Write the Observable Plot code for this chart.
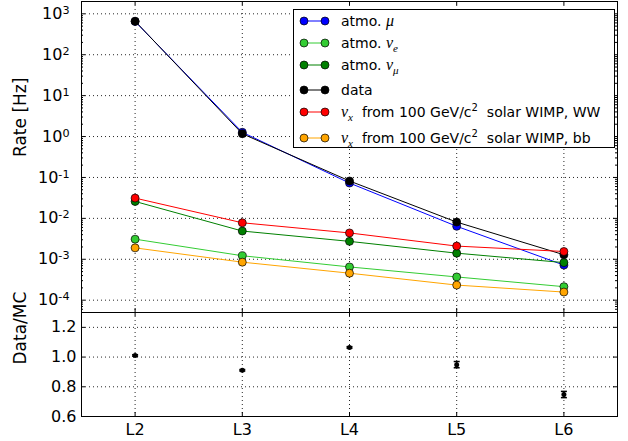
<!DOCTYPE html>
<html>
<head>
<meta charset="utf-8">
<script src="https://cdn.jsdelivr.net/npm/d3@7"></script>
<script src="https://cdn.jsdelivr.net/npm/@observablehq/plot@0.6"></script>
<style>
  body { margin: 0; background: #fff; }
  #chart { position: relative; width: 628px; height: 441px; font-family: "DejaVu Sans", sans-serif; color: #000; }
  #chart svg { display: block; }
  .legendbox { position: absolute; left: 293px; top: 9px; width: 322px; height: 139px; border: 1px solid #000; background: #fff; box-sizing: border-box; }
  .lrow { position: absolute; left: 299px; height: 20px; display: flex; align-items: center; font-size: 14px; white-space: nowrap; line-height: 20px; }
  .lrow > span { margin-left: 10px; }
  .m { font-family: "Liberation Serif", "DejaVu Serif", serif; font-style: italic; font-size: 16px; }
  .sb { font-family: "Liberation Serif", "DejaVu Serif", serif; font-style: italic; font-size: 11px; vertical-align: -4px; line-height: 0; }
  .sp { font-size: 10px; vertical-align: 6px; line-height: 0; }
</style>
</head>
<body>
<div id="chart"></div>
<script>
// ---- data ----
const levels = ["L2", "L3", "L4", "L5", "L6"];
const atmoMu   = [650, 1.27, 0.073, 0.0064, 0.00072];
const atmoNuE  = [0.0031, 0.00122, 0.00065, 0.00037, 0.000214];
const atmoNuMu = [0.0259, 0.0049, 0.00274, 0.00141, 0.00083];
const dataRate = [660, 1.17, 0.082, 0.0081, 0.00129];
const wimpWW   = [0.0313, 0.0078, 0.0044, 0.0021, 0.00155];
const wimpBB   = [0.0019, 0.00085, 0.000457, 0.000234, 0.000158];
const seriesValues = [atmoMu, atmoNuE, atmoNuMu, dataRate, wimpWW, wimpBB];
const seriesColors = ["#0000ff", "#33cc33", "#008000", "#000000", "#ff0000", "#ffa500"];
const seriesLabels = [
  'atmo. <span class="m">μ</span>',
  'atmo. <span class="m">ν</span><span class="sb">e</span>',
  'atmo. <span class="m">ν</span><span class="sb">μ</span>',
  'data',
  '<span class="m">ν</span><span class="sb">x</span>&nbsp; from 100 GeV/c<span class="sp">2</span>&nbsp; solar WIMP, WW',
  '<span class="m">ν</span><span class="sb">x</span>&nbsp; from 100 GeV/c<span class="sp">2</span>&nbsp; solar WIMP, bb'
];
const ratio    = [1.011, 0.911, 1.065, 0.949, 0.748];
const ratioErr = [0.005, 0.005, 0.005, 0.021, 0.021];
const rateTicks  = [1e-4, 1e-3, 1e-2, 1e-1, 1e0, 1e1, 1e2, 1e3];
const ratioTicks = [0.6, 0.8, 1.0, 1.2];

// ---- layout ----
const W = 628, ML = 81, MR = 11;
const FW = W - ML - MR;
const idx = levels.map((_, i) => i);
const minorTicks = [];
for (let k = -5; k <= 3; k++) for (let m = 2; m <= 9; m++) {
  const v = m * Math.pow(10, k);
  if (v >= 5e-5 && v <= 2e3) minorTicks.push(v);
}
const font = { fontFamily: "DejaVu Sans", fontSize: "16px", color: "#000", background: "transparent", overflow: "visible" };
const grid = { stroke: "#000", strokeOpacity: 0.85, strokeDasharray: "1,3", strokeWidth: 1 };
const ns = "http://www.w3.org/2000/svg";

// ---- upper panel ----
const H1 = 312, MT1 = 1, MB1 = 0;
const FH1 = H1 - MT1 - MB1;
const seriesMarks = [];
seriesValues.forEach((vals, s) => {
  seriesMarks.push(Plot.line(idx, { x: i => i, y: i => vals[i], stroke: seriesColors[s], strokeWidth: 1 }));
  seriesMarks.push(Plot.dot(idx, { x: i => i, y: i => vals[i], r: 4, fill: seriesColors[s], stroke: "#000", strokeWidth: 0.7 }));
});
const upper = Plot.plot({
  width: W, height: H1, marginLeft: ML, marginRight: MR, marginTop: MT1, marginBottom: MB1,
  style: font,
  x: { type: "linear", domain: [-0.5, 4.5], axis: null },
  y: { type: "log", domain: [5e-5, 2e3] },
  marks: [
    Plot.gridX({ ticks: idx, ...grid }),
    Plot.gridY({ ticks: rateTicks, ...grid }),
    ...seriesMarks,
    Plot.tickY(rateTicks, { y: d => d, insetRight: FW - 4, stroke: "#000" }),
    Plot.tickY(rateTicks, { y: d => d, insetLeft: FW - 4, stroke: "#000" }),
    Plot.tickY(minorTicks, { y: d => d, insetRight: FW - 2, stroke: "#000" }),
    Plot.tickY(minorTicks, { y: d => d, insetLeft: FW - 2, stroke: "#000" }),
    Plot.tickX(idx, { x: d => d, insetBottom: FH1 - 4, stroke: "#000" }),
    Plot.tickX(idx, { x: d => d, insetTop: FH1 - 4, stroke: "#000" }),
    Plot.frame({ stroke: "#000", strokeWidth: 1 }),
    Plot.axisY({ ticks: rateTicks, tickSize: 0, tickPadding: 12, label: null,
      tickFormat: d => "10^" + Math.round(Math.log10(d)) }),
    Plot.text(["Rate [Hz]"], { text: d => d, frameAnchor: "left", dx: -61, rotate: -90, fontSize: 17, fill: "#000" })
  ]
});

// ---- lower panel ----
const H2 = 129, MT2 = 0, MB2 = 25;
const FH2 = H2 - MT2 - MB2;
const capSymbol = { draw(ctx, size) { const r = Math.sqrt(size / Math.PI); ctx.moveTo(-r, 0); ctx.lineTo(r, 0); } };
const lower = Plot.plot({
  width: W, height: H2, marginLeft: ML, marginRight: MR, marginTop: MT2, marginBottom: MB2,
  style: font,
  x: { type: "linear", domain: [-0.5, 4.5] },
  y: { type: "linear", domain: [0.6, 1.3] },
  marks: [
    Plot.gridX({ ticks: idx, ...grid }),
    Plot.gridY({ ticks: ratioTicks.slice(1), ...grid }),
    Plot.ruleX(idx, { x: i => i, y1: i => ratio[i] - ratioErr[i], y2: i => ratio[i] + ratioErr[i], stroke: "#000", strokeWidth: 1.5 }),
    Plot.dot(idx, { x: i => i, y: i => ratio[i] + ratioErr[i], symbol: capSymbol, r: 3, stroke: "#000", strokeWidth: 1.5, fill: "none" }),
    Plot.dot(idx, { x: i => i, y: i => ratio[i] - ratioErr[i], symbol: capSymbol, r: 3, stroke: "#000", strokeWidth: 1.5, fill: "none" }),
    Plot.dot(idx, { x: i => i, y: i => ratio[i], r: 2.5, fill: "#000", stroke: "none" }),
    Plot.tickY(ratioTicks, { y: d => d, insetRight: FW - 4, stroke: "#000" }),
    Plot.tickY(ratioTicks, { y: d => d, insetLeft: FW - 4, stroke: "#000" }),
    Plot.tickX(idx, { x: d => d, insetBottom: FH2 - 4, stroke: "#000" }),
    Plot.tickX(idx, { x: d => d, insetTop: FH2 - 4, stroke: "#000" }),
    Plot.frame({ stroke: "#000", strokeWidth: 1 }),
    Plot.axisY({ ticks: ratioTicks, tickSize: 0, tickPadding: 5, label: null, tickFormat: d3.format(".1f") }),
    Plot.axisX({ ticks: idx, tickSize: 0, tickPadding: 7, label: null, tickFormat: i => levels[i] }),
    Plot.text(["Data/MC"], { text: d => d, frameAnchor: "left", dx: -61, rotate: -90, fontSize: 17, fill: "#000" })
  ]
});

// superscript exponents on the log axis
upper.querySelectorAll('g[aria-label="y-axis tick label"] text').forEach(t => {
  const m = t.textContent.match(/^10\^(.+)$/);
  if (!m) return;
  t.textContent = "";
  const a = document.createElementNS(ns, "tspan"); a.textContent = "10";
  const b = document.createElementNS(ns, "tspan"); b.textContent = m[1];
  b.setAttribute("dy", "-0.45em"); b.setAttribute("font-size", "70%");
  t.append(a, b);
});

const chart = document.getElementById("chart");
chart.append(upper, lower);

// ---- legend ----
const legendY = [20.8, 42.6, 64.8, 89.6, 112.4, 137.6];
const box = document.createElement("div");
box.className = "legendbox";
chart.append(box);
seriesLabels.forEach((lab, s) => {
  const row = document.createElement("div");
  row.className = "lrow";
  row.style.top = (legendY[s] - 10) + "px";
  const c = seriesColors[s];
  row.innerHTML = `<svg width="32" height="20"><line x1="5" x2="26" y1="10" y2="10" stroke="${c}" stroke-width="1"/>` +
    `<circle cx="5" cy="10" r="4" fill="${c}" stroke="#000" stroke-width="0.7"/>` +
    `<circle cx="26" cy="10" r="4" fill="${c}" stroke="#000" stroke-width="0.7"/></svg><span>${lab}</span>`;
  chart.append(row);
});
</script>
</body>
</html>
